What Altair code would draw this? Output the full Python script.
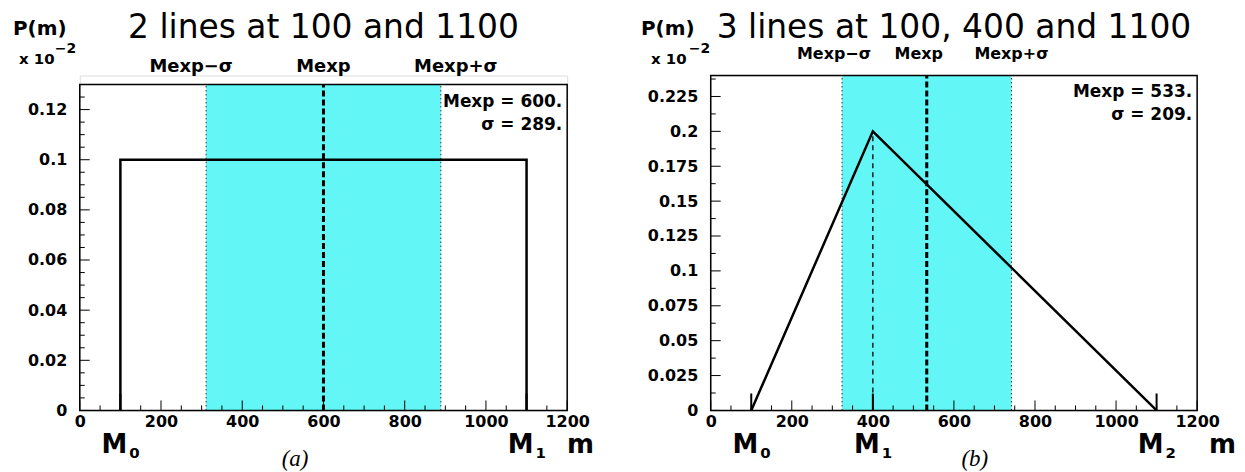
import altair as alt
import pandas as pd

# ---------------- data ----------------
X_MAJOR = [0, 200, 400, 600, 800, 1000, 1200]
X_MINOR = [50, 100, 150, 250, 300, 350, 450, 500, 550, 650, 700, 750,
           850, 900, 950, 1050, 1100, 1150]

A_TITLE = "2 lines at 100 and 1100"
A_M = [100, 100, 1100, 1100]
A_P = [0.0, 0.1, 0.1, 0.0]
A_LINES = [100, 1100]
A_SUBS = ["0", "1"]
A_MEXP = 600
A_SIGMA = 289
A_YMAX = 0.13
A_Y_MAJOR = [0, 0.02, 0.04, 0.06, 0.08, 0.1, 0.12]
A_Y_MINOR = [0.005, 0.01, 0.015, 0.025, 0.03, 0.035, 0.045, 0.05, 0.055,
             0.065, 0.07, 0.075, 0.085, 0.09, 0.095, 0.105, 0.11, 0.115, 0.125]

B_TITLE = "3 lines at 100, 400 and 1100"
B_M = [100, 400, 1100]
B_P = [0.0, 0.2, 0.0]
B_LINES = [100, 400, 1100]
B_SUBS = ["0", "1", "2"]
B_MEXP = 533
B_SIGMA = 209
B_YMAX = 0.24
B_Y_MAJOR = [0, 0.025, 0.05, 0.075, 0.1, 0.125, 0.15, 0.175, 0.2, 0.225]
B_Y_MINOR = [0.0125, 0.0375, 0.0625, 0.0875, 0.1125, 0.1375, 0.1625,
             0.1875, 0.2125, 0.2375]
B_PEAK = [400, 0.2]

FONT = "DejaVu Sans"
CYAN = "#62f6f6"
H_ALL = 336          # common panel height (right frame)
H_FRAME_A = 327      # height of the left frame


def txt(s, x, y, size, weight="bold", align="left", font=FONT, style="normal"):
    return alt.Chart(pd.DataFrame({"t": [s]})).mark_text(
        align=align, baseline="alphabetic", font=font, fontSize=size,
        fontWeight=weight, fontStyle=style, color="black"
    ).encode(x=alt.value(x), y=alt.value(y), text="t:N")


def panel(title, ms, ps, lines, subs, mexp, sigma, ymax, ydom, ymaj, ymin,
          W, H, lay, peak=None):
    xs = alt.Scale(domain=[0, 1200], nice=False, zero=False)
    ys = alt.Scale(domain=[0, ydom], nice=False, zero=True)
    xaxis = alt.Axis(values=X_MAJOR, format="d", title=None, ticks=False,
                     domain=False, grid=False, labelFont=FONT,
                     labelFontWeight="bold", labelFontSize=16,
                     labelColor="black", labelPadding=3, labelFlush=False,
                     labelOverlap=False)
    yaxis = alt.Axis(values=ymaj, format=".3~r", title=None, ticks=False,
                     domain=False, grid=False, labelFont=FONT,
                     labelFontWeight="bold", labelFontSize=16,
                     labelColor="black", labelPadding=13, labelFlush=False,
                     labelOverlap=False)

    def X(f):
        return alt.X(f, type="quantitative", scale=xs, axis=xaxis)

    def Y(f):
        return alt.Y(f, type="quantitative", scale=ys, axis=yaxis)

    lo, hi = mexp - sigma, mexp + sigma
    layers = []
    layers.append(alt.Chart(pd.DataFrame({"lo": [lo], "hi": [hi], "b": [0.0], "t": [ymax]}))
                  .mark_rect(color=CYAN)
                  .encode(x=X("lo"), x2=alt.X2("hi"), y=Y("b"), y2=alt.Y2("t")))
    layers.append(alt.Chart(pd.DataFrame({"e": [lo, hi], "b": [0.0, 0.0], "t": [ymax, ymax]}))
                  .mark_rule(color="#333", strokeDash=[1.5, 2.5], strokeWidth=1)
                  .encode(x=X("e"), y=Y("b"), y2=alt.Y2("t")))
    if peak is not None:
        layers.append(alt.Chart(pd.DataFrame({"m": [peak[0]], "p0": [0.0], "p": [peak[1]]}))
                      .mark_rule(color="black", strokeDash=[5, 4], strokeWidth=1.3)
                      .encode(x=X("m"), y=Y("p0"), y2=alt.Y2("p")))
    layers.append(alt.Chart(pd.DataFrame({"m": ms, "p": ps, "i": list(range(len(ms)))}))
                  .mark_line(color="black", strokeWidth=2.5)
                  .encode(x=X("m"), y=Y("p"), order="i:Q"))
    layers.append(alt.Chart(pd.DataFrame({"m": [mexp], "b": [0.0], "t": [ymax]}))
                  .mark_rule(color="black", strokeDash=[6, 3], strokeWidth=3)
                  .encode(x=X("m"), y=Y("b"), y2=alt.Y2("t")))
    # line markers at the bottom
    layers.append(alt.Chart(pd.DataFrame({"m": lines}))
                  .mark_rule(color="black", strokeWidth=2)
                  .encode(x=X("m"), y=alt.value(H), y2=alt.value(H - 17)))
    # inner ticks
    layers.append(alt.Chart(pd.DataFrame({"v": X_MAJOR}))
                  .mark_rule(color="black", strokeWidth=1)
                  .encode(x=X("v"), y=alt.value(H), y2=alt.value(H - 10)))
    layers.append(alt.Chart(pd.DataFrame({"v": X_MINOR}))
                  .mark_rule(color="black", strokeWidth=1)
                  .encode(x=X("v"), y=alt.value(H), y2=alt.value(H - 5)))
    layers.append(alt.Chart(pd.DataFrame({"v": ymaj}))
                  .mark_rule(color="black", strokeWidth=1)
                  .encode(y=Y("v"), x=alt.value(0), x2=alt.value(10)))
    layers.append(alt.Chart(pd.DataFrame({"v": ymin}))
                  .mark_rule(color="black", strokeWidth=1)
                  .encode(y=Y("v"), x=alt.value(0), x2=alt.value(5)))
    # frame
    layers.append(alt.Chart(pd.DataFrame({"x0": [0], "x1": [1200], "b": [0.0], "t": [ymax]}))
                  .mark_rect(fillOpacity=0, stroke="black", strokeWidth=1.5)
                  .encode(x=X("x0"), x2=alt.X2("x1"), y=Y("b"), y2=alt.Y2("t")))

    # texts
    layers.append(txt(title, W / 2, lay["title_y"], 33, weight="normal", align="center"))
    layers.append(txt("P(m)", lay["pm_x"], lay["pm_y"], 20))
    layers.append(txt("x 10", lay["x10_x"], lay["x10_y"], 15))
    layers.append(txt("\u22122", lay["exp_x"], lay["exp_y"], 14))
    for val, lab, dx in zip([lo, mexp, hi], ["Mexp\u2212\u03c3", "Mexp", "Mexp+\u03c3"], lay["mexp_dx"]):
        layers.append(alt.Chart(pd.DataFrame({"m": [val], "t": [lab]}))
                      .mark_text(align="center", baseline="alphabetic", font=FONT,
                                 fontSize=lay["mexp_fs"], fontWeight="bold", color="black", dx=dx)
                      .encode(x=X("m"), y=alt.value(lay["mexp_y"]), text="t:N"))
    layers.append(txt(f"Mexp = {mexp}.", W - 5, lay["stat_y"], 17, align="right"))
    layers.append(txt(f"\u03c3 = {sigma}.", W - 5, lay["stat_y"] + 23, 17, align="right"))
    mdf = pd.DataFrame({"m": lines, "s": subs, "M": ["M"] * len(lines)})
    layers.append(alt.Chart(mdf).mark_text(align="center", baseline="alphabetic", font=FONT,
                                           fontSize=26, fontWeight="bold", color="black", dx=-6)
                  .encode(x=X("m"), y=alt.value(H + 43), text="M:N"))
    layers.append(alt.Chart(mdf).mark_text(align="left", baseline="alphabetic", font=FONT,
                                           fontSize=15, fontWeight="bold", color="black", dx=9)
                  .encode(x=X("m"), y=alt.value(H + 48), text="s:N"))
    layers.append(txt("m", lay["m_x"], H + 43, 26, align="right"))
    layers.append(txt(lay["tag"], lay["tag_x"], H + 56, 23, weight="normal", align="center",
                      font="Liberation Serif", style="italic"))

    return alt.layer(*layers).properties(width=W, height=H)


left = panel(A_TITLE, A_M, A_P, A_LINES, A_SUBS, A_MEXP, A_SIGMA, A_YMAX,
             A_YMAX * H_ALL / H_FRAME_A, A_Y_MAJOR, A_Y_MINOR, 489, H_ALL,
             dict(title_y=-38, pm_x=-67, pm_y=-41, x10_x=-61, x10_y=-12,
                  exp_x=-25, exp_y=-23, mexp_y=-4, mexp_dx=[-15, 0, 15], mexp_fs=18,
                  stat_y=32, m_x=516, tag="(a)", tag_x=216))
right = panel(B_TITLE, B_M, B_P, B_LINES, B_SUBS, B_MEXP, B_SIGMA, B_YMAX,
              B_YMAX, B_Y_MAJOR, B_Y_MINOR, 488, H_ALL,
              dict(title_y=-38, pm_x=-70, pm_y=-41, x10_x=-60, x10_y=-12,
                   exp_x=-22, exp_y=-23, mexp_y=-17, mexp_dx=[-8, -8, 0], mexp_fs=16,
                   stat_y=22, m_x=527, tag="(b)", tag_x=265),
              peak=B_PEAK)

chart = alt.hconcat(left, right, spacing=45,
                    padding={"left": 4, "top": 2, "right": 0, "bottom": 0}
                    ).configure_view(stroke=None
                    ).configure(background="white")

chart.save("out.html", embed_options={"renderer": "svg", "actions": False})
